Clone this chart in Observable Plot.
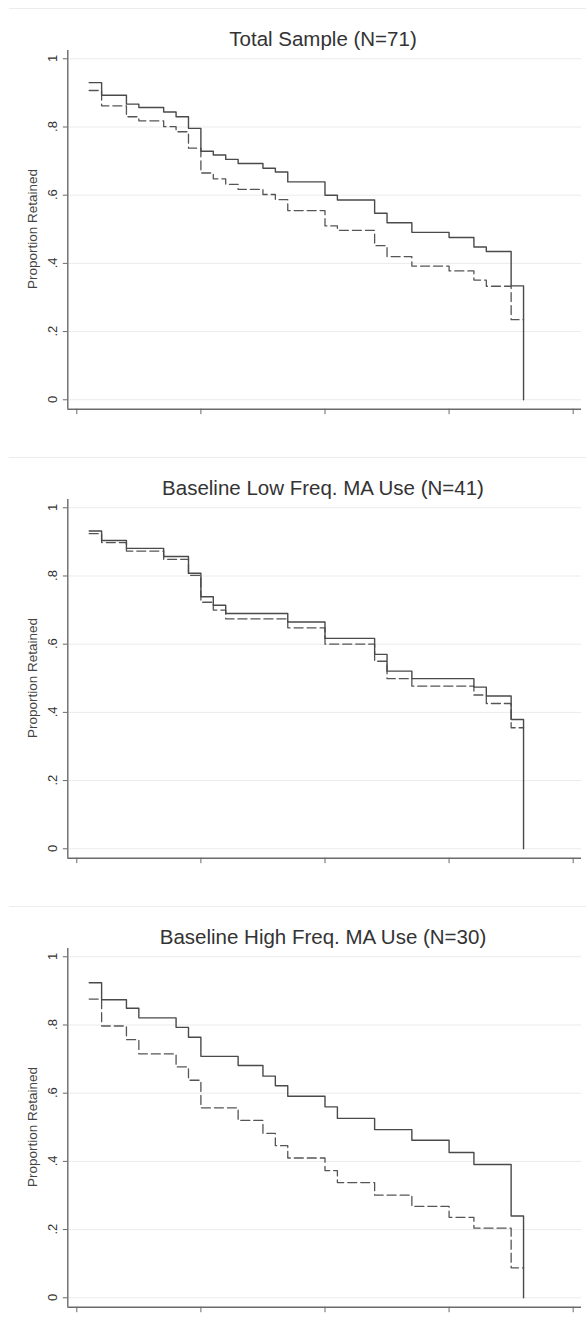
<!DOCTYPE html>
<html><head><meta charset="utf-8">
<script src="https://cdn.jsdelivr.net/npm/d3@7"></script>
<script src="https://cdn.jsdelivr.net/npm/@observablehq/plot@0.6"></script>
<style>
body{margin:0;background:#fff;}
#root{position:relative;width:586px;height:1324px;overflow:hidden;font-family:"Liberation Sans",Arial,sans-serif;}
.panel{position:absolute;left:0;width:586px;height:449px;}
.topline{position:absolute;left:9px;right:0;top:8px;height:0;border-top:1px solid #ececec;}
</style></head><body><div id="root"></div>
<script>
// ---- data ----
const titles = ["Total Sample (N=71)", "Baseline Low Freq. MA Use (N=41)", "Baseline High Freq. MA Use (N=30)"];
const yLabel = "Proportion Retained";
const yTicks = [0, 0.2, 0.4, 0.6, 0.8, 1];
const xTicks = [0, 10, 20, 30, 40];

const times1 = [1,2,4,5,7,8,9,10,11,12,13,15,16,17,20,21,24,25,27,30,32,33,35,36];
const solid1 = [0.930,0.893,0.867,0.857,0.844,0.830,0.796,0.729,0.718,0.705,0.693,0.679,0.668,0.639,0.600,0.586,0.547,0.519,0.491,0.476,0.448,0.435,0.334,0];
const dashed1 = [0.907,0.862,0.830,0.818,0.801,0.786,0.738,0.665,0.648,0.632,0.617,0.602,0.587,0.555,0.510,0.497,0.452,0.420,0.392,0.378,0.351,0.333,0.235,0.235];

const times2 = [1,2,4,7,9,10,11,12,17,20,24,25,27,32,33,35,36];
const solid2 = [0.932,0.904,0.881,0.857,0.808,0.739,0.714,0.690,0.665,0.617,0.570,0.521,0.499,0.474,0.448,0.379,0];
const dashed2 = [0.924,0.898,0.873,0.849,0.802,0.723,0.700,0.674,0.648,0.600,0.550,0.499,0.477,0.451,0.426,0.355,0.355];

const times3 = [1,2,4,5,8,9,10,13,15,16,17,20,21,24,27,30,32,35,36];
const solid3 = [0.924,0.874,0.849,0.821,0.793,0.764,0.708,0.681,0.650,0.622,0.591,0.560,0.526,0.493,0.462,0.426,0.391,0.240,0];
const dashed3 = [0.876,0.797,0.757,0.715,0.677,0.638,0.557,0.520,0.482,0.446,0.410,0.373,0.338,0.301,0.268,0.236,0.204,0.088,0.088];

const panels = [
  {title: titles[0], times: times1, solid: solid1, dashed: dashed1},
  {title: titles[1], times: times2, solid: solid2, dashed: dashed2},
  {title: titles[2], times: times3, solid: solid3, dashed: dashed3}
];

// ---- layout ----
const X_DOMAIN = [-0.725, 40.67];
const Y_DOMAIN = [-0.0276, 1.0243];
const panelTops = [0, 448.5, 897.5];
const AXIS = "#6a6a6a";
const LINE = "#4a4a4a";
const FONT = "'Liberation Sans', Arial, sans-serif";
const fmt = d => d === 0 ? "0" : d === 1 ? "1" : d.toFixed(1).replace(/^0/, "");

const root = document.getElementById("root");
panels.forEach((p, i) => {
  const div = document.createElement("div");
  div.className = "panel";
  div.style.top = panelTops[i] + "px";
  const tl = document.createElement("div");
  tl.className = "topline";
  div.appendChild(tl);

  const solidRows = p.times.map((t, j) => ({t, v: p.solid[j]}));
  const dashedRows = p.times.map((t, j) => ({t, v: p.dashed[j]}));

  const svg = Plot.plot({
    width: 586, height: 449,
    marginLeft: 67.3, marginRight: 5, marginTop: 50, marginBottom: 40.3,
    style: {background: "transparent", color: AXIS, fontFamily: FONT, overflow: "visible"},
    x: {domain: X_DOMAIN, ticks: xTicks, tickSize: 5.5, tickFormat: () => "", label: null},
    y: {domain: Y_DOMAIN, ticks: yTicks, tickSize: 4.5, tickFormat: () => "", label: null},
    marks: [
      Plot.ruleY(yTicks, {stroke: "#ebebeb", strokeWidth: 1}),
      Plot.ruleX([X_DOMAIN[0]], {stroke: AXIS, strokeWidth: 1.4}),
      Plot.ruleY([Y_DOMAIN[0]], {stroke: AXIS, strokeWidth: 1.4}),
      Plot.lineY(dashedRows, {x: "t", y: "v", curve: "step-after", stroke: "#555", strokeWidth: 1.3, strokeDasharray: "9,4"}),
      Plot.lineY(solidRows, {x: "t", y: "v", curve: "step-after", stroke: LINE, strokeWidth: 1.4})
    ]
  });
  svg.style.position = "absolute";
  svg.style.left = "0px";
  svg.style.top = "0px";
  const s = d3.select(svg);
  const ys = svg.scale("y");
  s.append("g")
    .selectAll("text")
    .data(yTicks)
    .join("text")
    .attr("transform", d => `translate(57,${ys.apply(d)}) rotate(-90)`)
    .attr("text-anchor", "middle")
    .attr("font-size", 13)
    .attr("fill", "#333")
    .attr("font-family", FONT)
    .text(fmt);
  s.append("text")
    .attr("x", 323).attr("y", 45.5)
    .attr("text-anchor", "middle")
    .attr("font-size", 20.5)
    .attr("fill", "#333")
    .attr("font-family", FONT)
    .text(p.title);
  s.append("text")
    .attr("transform", "translate(37,229) rotate(-90)")
    .attr("text-anchor", "middle")
    .attr("font-size", 13.5)
    .attr("fill", "#444")
    .attr("font-family", FONT)
    .text(yLabel);
  div.appendChild(svg);
  root.appendChild(div);
});
</script></body></html>
